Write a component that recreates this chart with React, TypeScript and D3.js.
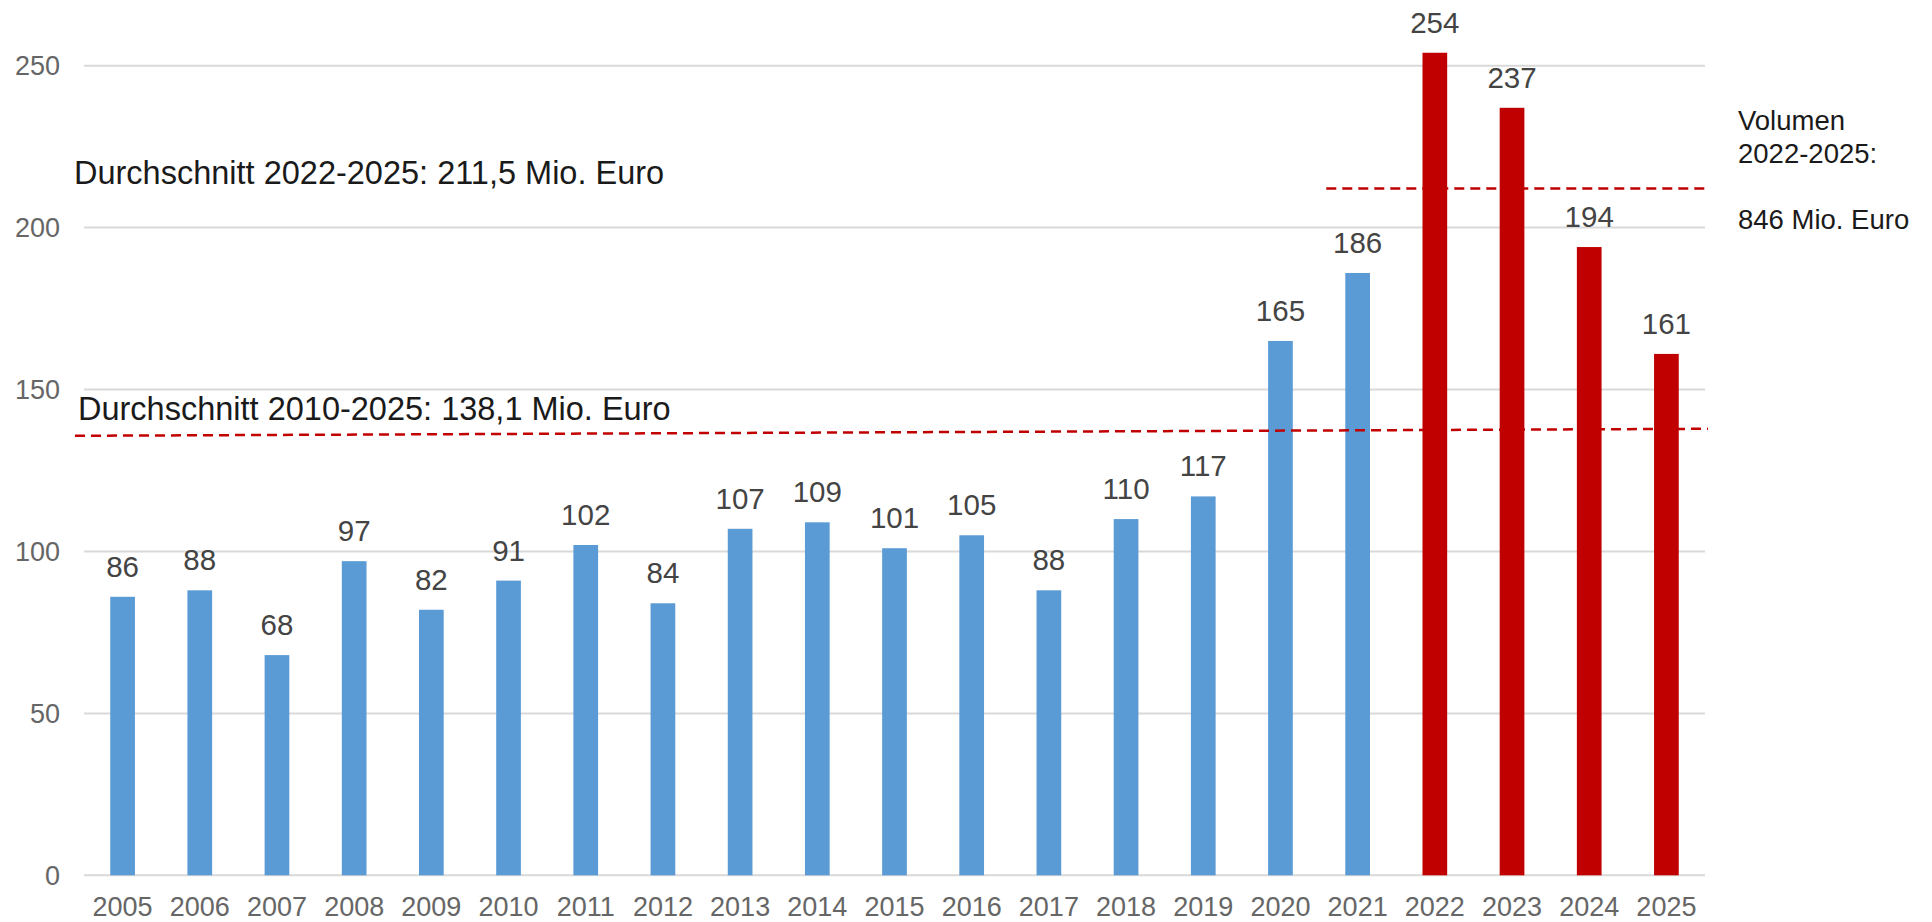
import React from 'react';
import { scaleBand, scaleLinear, mean } from 'd3';

const years = ['2005', '2006', '2007', '2008', '2009', '2010', '2011', '2012', '2013', '2014', '2015',
    '2016', '2017', '2018', '2019', '2020', '2021', '2022', '2023', '2024', '2025'];
const values = [86, 88, 68, 97, 82, 91, 102, 84, 107, 109, 101, 105, 88, 110, 117, 165, 186, 254, 237, 194, 161];
const highlightYears = ['2022', '2023', '2024', '2025'];
const yTicks = [0, 50, 100, 150, 200, 250];
const volumeLines = ['Volumen', '2022-2025:', '', '846 Mio. Euro'];

const width = 1932;
const height = 922;
const marginLeft = 84;
const marginRight = 227;
const marginTop = 65.7;
const marginBottom = 46.7;

const blue = '#5b9bd5';
const red = '#c00000';
const font = '"Liberation Sans", Arial, sans-serif';

const App = () => {
    const x = scaleBand<string>()
        .domain(years)
        .range([marginLeft, width - marginRight])
        .paddingInner(0.68)
        .paddingOuter(0.34);

    const y = scaleLinear()
        .domain([0, 250])
        .range([height - marginBottom, marginTop]);

    // averages computed from the bars
    const avgLong = mean(values.filter((_, i) => +years[i] >= 2010)) as number;
    const avgShort = mean(values.filter((_, i) => highlightYears.includes(years[i]))) as number;

    const x0 = marginLeft;
    const x1 = width - marginRight;

    return (
        <svg width={width} height={height} style={{ position: 'absolute', left: 0, top: 0, background: '#fff' }}
            fontFamily={font}>
            {/* grid */}
            {yTicks.map((t) => (
                <g key={t}>
                    <line x1={x0} x2={x1} y1={y(t)} y2={y(t)} stroke="#d9d9d9" strokeWidth={2} />
                    <text x={60} y={y(t)} dy="0.35em" textAnchor="end" fontSize={27} fill="#666">{t}</text>
                </g>
            ))}

            {/* bars */}
            {years.map((yr, i) => (
                <g key={yr}>
                    <rect x={x(yr)} y={y(values[i])} width={x.bandwidth()} height={y(0) - y(values[i])}
                        fill={highlightYears.includes(yr) ? red : blue} />
                    <text x={(x(yr) as number) + x.bandwidth() / 2} y={y(values[i]) - 20} textAnchor="middle"
                        fontSize={29.5} fill="#444">{values[i]}</text>
                    <text x={(x(yr) as number) + x.bandwidth() / 2} y={916} textAnchor="middle"
                        fontSize={27} fill="#666">{yr}</text>
                </g>
            ))}

            {/* average lines */}
            <line x1={75} x2={x1 + 3} y1={y(avgLong) + 8} y2={y(avgLong) + 1} stroke={red} strokeWidth={2.5}
                strokeDasharray="10 6" />
            <line x1={(x('2021') as number) - 19} x2={x1} y1={y(avgShort) - 2} y2={y(avgShort) - 2} stroke={red}
                strokeWidth={2.5} strokeDasharray="10 6" />

            <text x={74} y={184} fontSize={32.5} fill="#1a1a1a">
                Durchschnitt 2022-2025: 211,5 Mio. Euro
            </text>
            <text x={78} y={420} fontSize={32.5} fill="#1a1a1a">
                Durchschnitt 2010-2025: 138,1 Mio. Euro
            </text>

            {volumeLines.map((l, i) => (
                <text key={i} x={1738} y={130 + i * 33} fontSize={27.5} fill="#1a1a1a">{l}</text>
            ))}
        </svg>
    );
};

export default App;
